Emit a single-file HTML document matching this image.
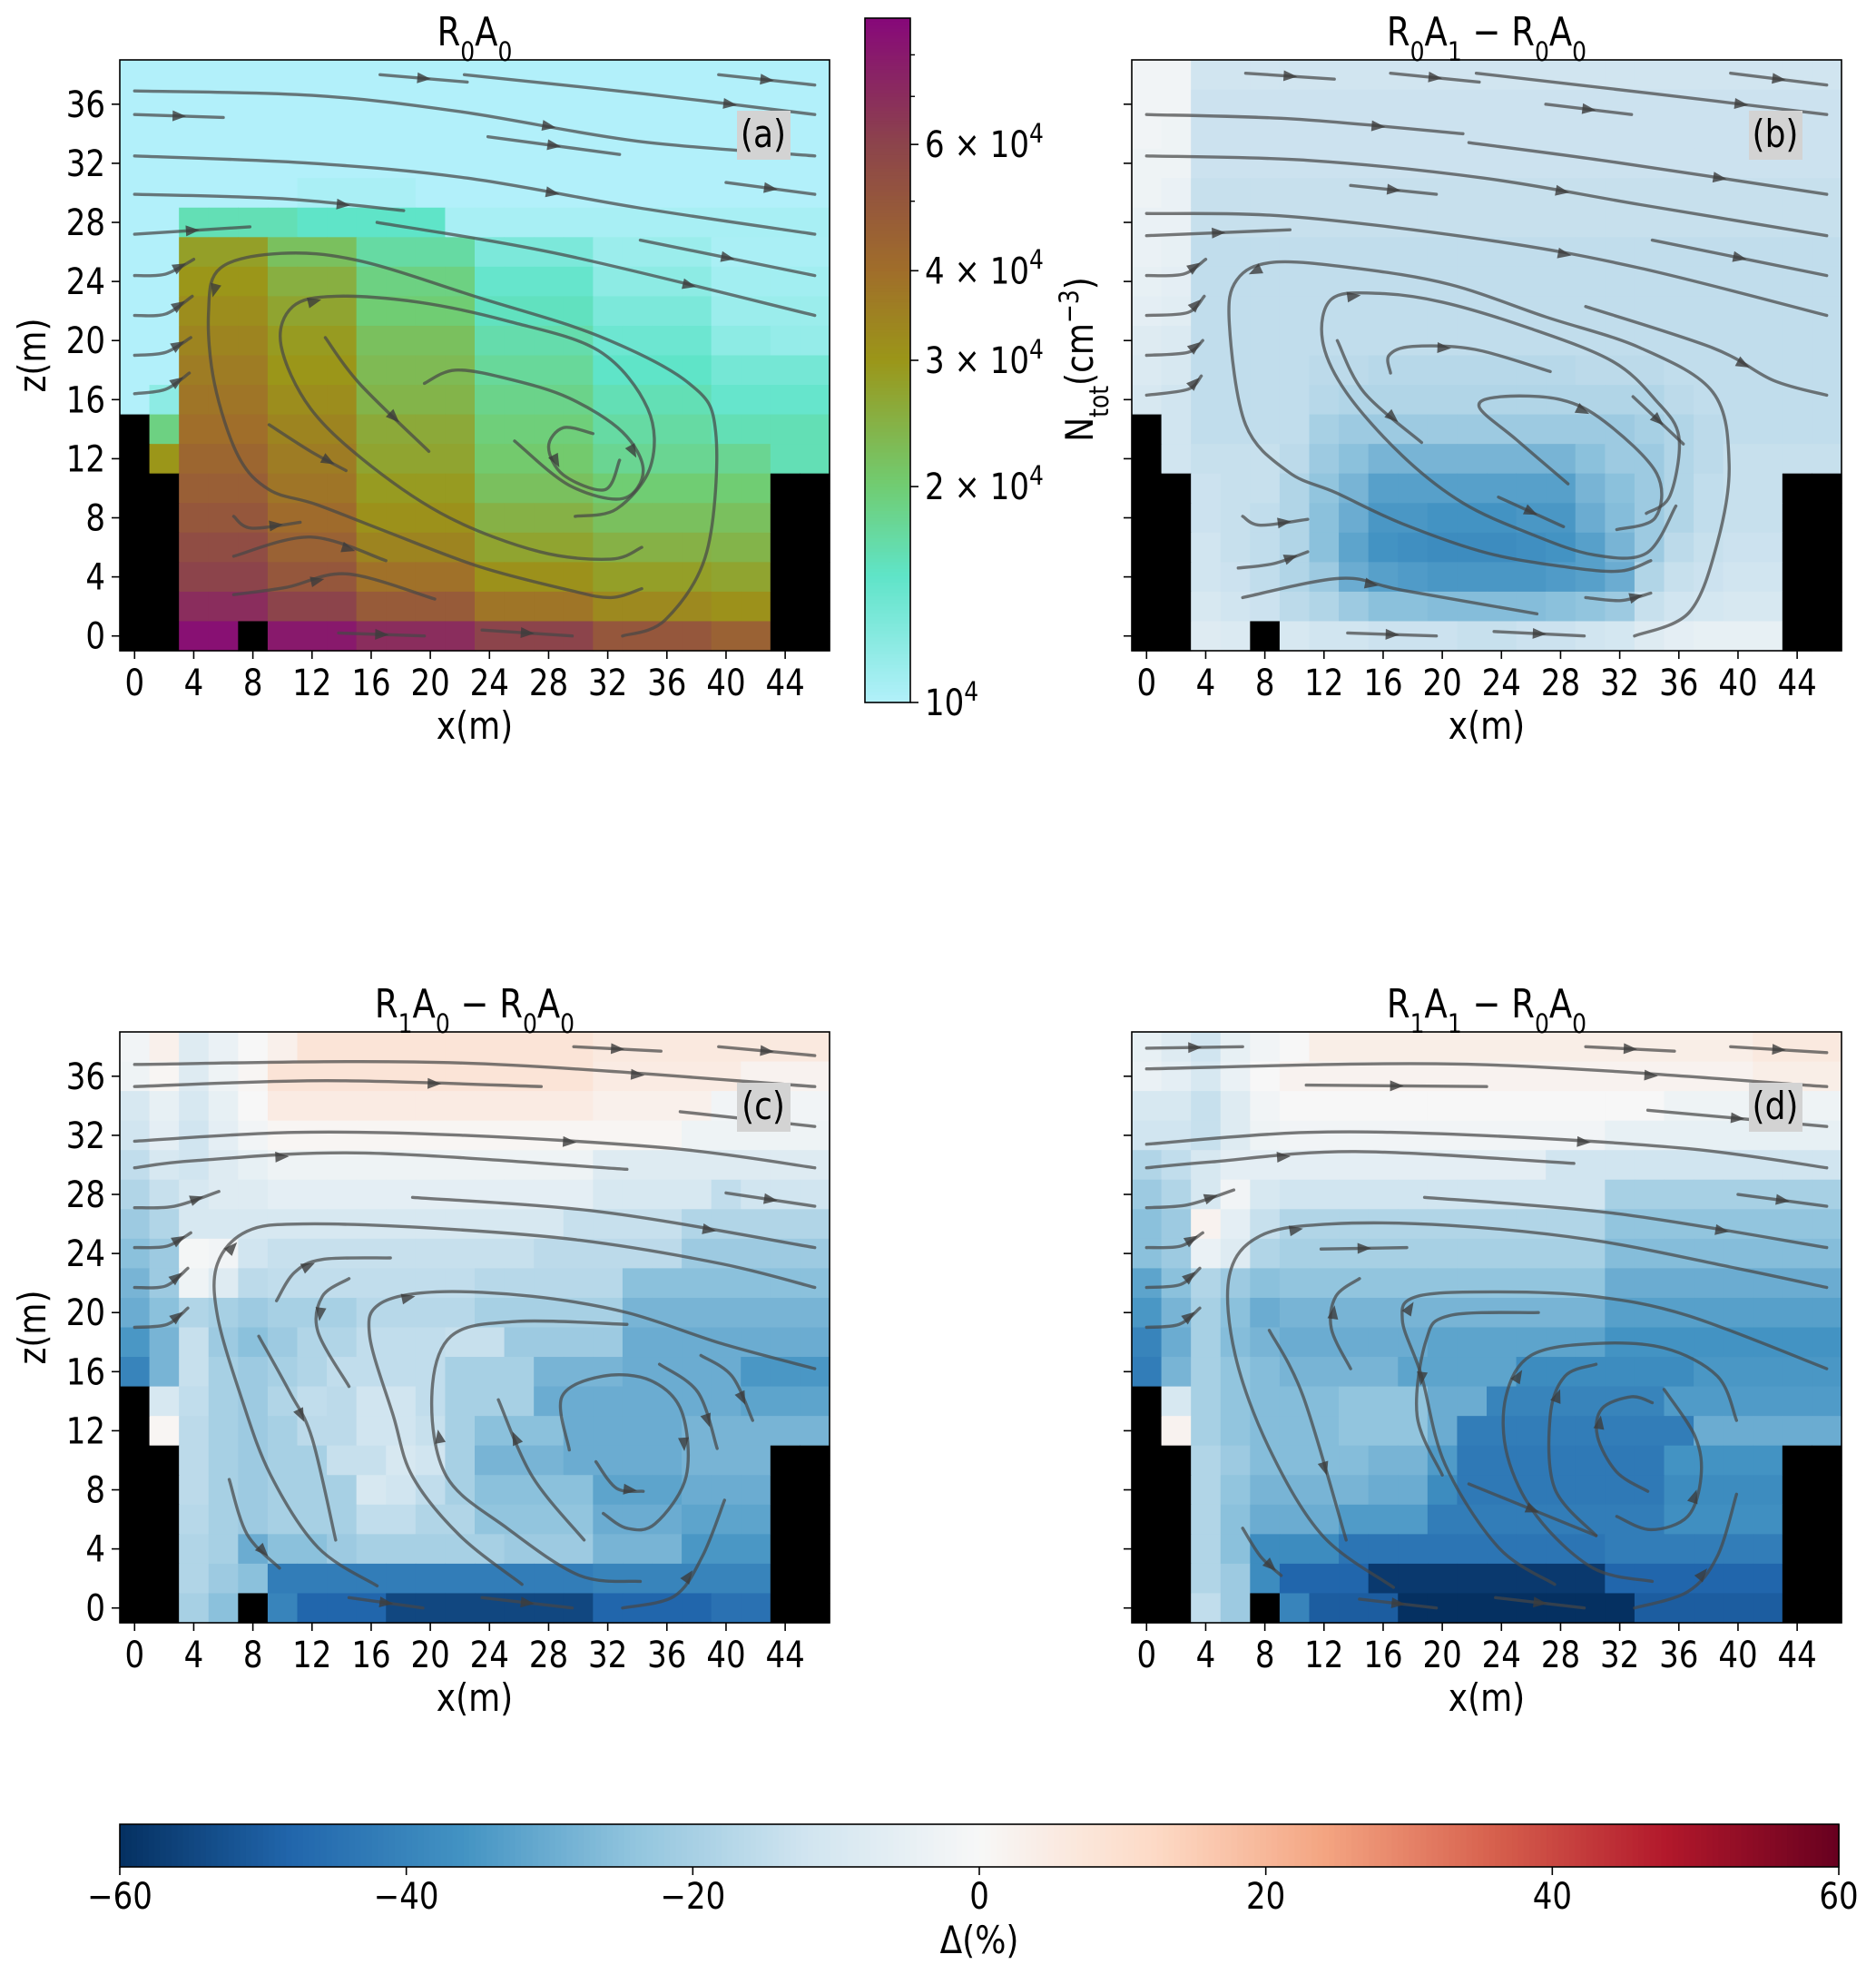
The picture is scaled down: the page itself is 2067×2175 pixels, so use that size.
<!DOCTYPE html>
<html><head><meta charset="utf-8">
<style>
html,body{margin:0;padding:0;background:#fff;}
svg{display:block;font-family:"DejaVu Sans","Liberation Sans",sans-serif;}
</style></head>
<body>
<svg id="fig" xmlns="http://www.w3.org/2000/svg" width="2067" height="2175" viewBox="0 0 2067 2175"></svg>
<script>
// ---------------- DATA ----------------
// grids: rows from z=38 (top) down to z=0; 24 columns x=0,2,...,46. M = solid obstacle
const gridA = [ // N_tot in units of 1e4 cm^-3
"1*24","1*24","1*24","1*24",
"1 1 1 1 1 1 1.04 1.04 1.04 1.04 1*14",
"1 1 1.6 1.6 1.6 1.6 1.5 1.5 1.5 1.5 1.5 1.05*13",
"1 1 2.8*3 2.2*3 1.7*4 1.3*4 1.12*4 1.04*4",
"1 1 3.0*3 2.5*3 1.9*4 1.45*4 1.2*4 1.08*4",
"1 1 3.2*3 2.7*3 2.0*4 1.55*4 1.3*4 1.12*4",
"1 1 3.4*3 2.9*3 2.2*4 1.65*4 1.4*4 1.2 1.2 1.15 1.15",
"1 1 3.6*3 3.0*3 2.3*4 1.75*4 1.5*4 1.35*4",
"1 1.2 3.8*3 3.2*3 2.4*4 1.85*4 1.6*4 1.45*4",
"M 1.9 4.0*3 3.4*3 2.6*4 1.95*4 1.7*4 1.6*4",
"M 3.0 4.3*3 3.6*3 2.7*4 2.05*4 1.8*4 1.8 1.8 1.6 1.6",
"M M 4.6*3 3.8*3 2.9*4 2.2*4 2.0*4 2.0 2.0 M M",
"M M 5.0*3 4.1*3 3.1*4 2.45*4 2.2*4 2.2 2.2 M M",
"M M 5.5*3 4.5*3 3.4*4 2.7*4 2.45*4 2.4 2.4 M M",
"M M 6.0*3 5.0*3 3.9*4 3.1*4 2.8*4 2.7 2.7 M M",
"M M 7.0*3 6.0*3 4.8*4 3.8*4 3.3*4 3.1 3.1 M M",
"M M 8.5 8.5 M 8.0*3 7.0*4 6.0*4 5.0*4 4.5 4.5 M M"];
const gridB = [ // Delta %
"-2 -2 -12*22","-2 -2 -13*22","-2 -3 -13*22","-3 -3 -13*22","-3 -4 -14*22",
"-4 -4 -14*22","-4 -5 -15*22","-5 -6 -15*22","-6 -7 -15*22","-8 -9 -15*22",
"-9 -10 -15*4 -16 -16 -17*7 -16*3 -15*6",
"-10 -12 -15*4 -17 -18*11 -16 -15*5",
"M -12 -15*4 -20 -22*10 -20 -18 -16 -15*4",
"M -12 -14 -14 -14 -16 -22 -25 -28*7 -25 -22 -22 -18 -16 -14*4",
"M M -13 -14 -14 -18 -24 -28 -33*7 -28 -25 -22 -18 -15 -14 -14 M M",
"M M -13 -14 -15 -18 -25 -30 -35 -35 -36 -36 -36 -35 -35 -30 -26 -22 -18 -15 -14 -14 M M",
"M M -12 -14 -15 -18 -25 -32 -36 -37 -38 -38 -38 -37 -36 -33 -28 -22 -16 -14 -13 -13 M M",
"M M -12 -13 -15 -18 -22 -30 -33 -34 -35 -35 -35 -35 -34 -33 -30 -18 -14 -13 -12 -12 M M",
"M M -10 -12 -13 -16 -18 -22 -25 -25 -26 -26 -26 -26 -25 -24 -22 -14 -12 -11 -10 -10 M M",
"M M -8 -9 M -10 -12 -12 -13 -13 -13 -14 -14 -13 -13 -12 -11 -8 -6 -5 -5 -5 M M"];
const gridC = [
"-2 3 -8 -4 0 3 8*10 6*8",
"-3 1 -8 -3 1 8*11 5*5 2*3",
"-10 -5 -10 -5 0 5*11 3*4 -2*4",
"-12 -6 -12 -6 -2 1*14 -3*5",
"-15 -10 -12 -8 -5 -3*11 -8*8",
"-18 -14 -10 -8 -8 -6*11 -10*4 -15 -12 -12 -12",
"-22 -18 -10 -10 -10 -10*10 -14*4 -18*5",
"-25 -22 -1 -2 -12 -14*9 -16*5 -22*5",
"-28 -22 -3 -8 -16 -15*7 -17*5 -25*7",
"-30 -25 -18 -20 -22 -20*3 -17*4 -20*5 -28*7",
"-35 -28 -14 -22 -25 -22 -18 -18 -15*3 -14 -14 -22*4 -30*7",
"-40 -28 -14 -20 -22 -20 -18 -15 -15*3 -20*3 -28*3 -30*4 -35*3",
"M -10 -15 -20 -22 -18 -15 -16 -12 -12 -15 -20*3 -30*7 -32*3",
"M 1 -16 -20 -22 -20 -16 -16 -12 -12 -14 -20 -25*3 -30*4 -28*5",
"M M -16 -20 -22 -20 -20 -14 -14 -10 -12 -20 -28*3 -30*4 -28*3 M M",
"M M -16 -20 -22 -20*3 -10 -12 -15 -20 -25*4 -32*3 -30*3 M M",
"M M -17 -20 -22 -20*3 -15 -15 -18 -18 -24*4 -30*3 -32*3 M M",
"M M -18 -20 -30 -25 -25 -22 -20*5 -22*3 -28*3 -35*3 M M",
"M M -18 -22 -25 -42*11 -40*6 M M",
"M M -20 -25 M -40 -48*3 -55*7 -48*4 -45 -45 M M"];
const gridD = [
"-5 -8 -12 -5 -2 0 4*15 6*3",
"-4 -6 -10 -4 0 2*16 4*3",
"-10 -10 -14 -8 -2 0*13 -3*6",
"-12 -12 -14 -8 -3 -2*11 -5*8",
"-18 -15 -10 -6 -6 -6*9 -12*10",
"-22 -18 -10 -2 -10 -12*11 -20*8",
"-25 -22 2 -6 -14 -18*11 -24*8",
"-25 -22 -4 -8 -18 -20*11 -26*8",
"-32 -25 -18 -22 -25 -24*11 -30*8",
"-35 -28 -20 -25 -30 -28*11 -33*8",
"-40 -30 -20 -26 -28 -30*5 -32*6 -36*8",
"-42 -28 -20 -24 -26 -28*4 -32*4 -38*6 -35*5",
"M -10 -20 -24 -26 -26 -26 -24*3 -30 -30 -40*6 -34*6",
"M 2 -20 -24 -26 -26 -26 -24*3 -30 -42*8 -30*5",
"M M -18 -22 -26 -26*3 -28 -28 -34 -43*7 -36*4 M M",
"M M -18 -24 -28 -28*3 -30 -30 -38 -43*7 -38*4 M M",
"M M -18 -25 -30 -30 -30 -34*3 -42*8 -37*4 M M",
"M M -18 -25 -38 -38 -38 -44*9 -42*6 M M",
"M M -18 -22 -38 -48*3 -58*8 -48*6 M M",
"M M -15 -22 M -40 -50*3 -60*8 -50*5 M M"];

// streamlines, in data coordinates [x(m), z(m)]
const streamsA = [
[[0,36.9],[12,36.6],[22,35.5],[34,33.5],[46,32.5]],
[[0,32.5],[12,32],[22.5,31],[34,29],[46,27.2]],
[[0,29.9],[10,29.6],[18.2,28.8]],
[[16.4,28],[29,25.8],[46,21.7]],
[[22.3,38],[34.5,36.7],[46,35.3]],
[[16.6,38],[22.5,37.5]],[[39.5,38],[46,37.3]],[[0,35.3],[6,35.1]],
[[23.9,33.8],[32.8,32.6]],[[40,30.7],[46,29.9]],[[34.2,26.8],[46,24.4]],
[[0,27.2],[7.8,27.7]],
[[33,0],[35.9,1.1],[38.7,5.7],[39.3,13.8],[37.5,17.1],[31.4,20.3],[23.3,22.9],[15.2,25.4],[9.9,25.9],[5.8,24.9],[5,21.9],[5.4,17.1],[7,12.2],[9.1,9.9],[12.3,8.9],[17.2,7],[23.3,4.7],[29.4,3.1],[32.2,2.6],[34.3,3.2]],
[[34.3,6],[32.2,5.2],[27.4,5.7],[21.3,8],[16,11.5],[11.9,15.4],[9.9,19.7],[10.7,22.3],[13.6,23],[19.2,22.6],[25.3,21.3],[31.4,19.3],[34.7,15.4],[34.9,11.5],[32.6,8.6],[29.8,8.1]],
[[19.6,17.1],[21.7,18],[25.3,17.4],[29.4,16.1],[33,13.8],[34.4,11.2],[33,9.3],[29.4,10.2],[25.7,13.2]],
[[12.9,20.2],[15.2,17.1],[19.9,12.5]],
[[31,13.7],[29,14.1],[28,12.8],[29,10.9],[31.8,9.9],[32.8,11.9]],
[[9.1,14.3],[11.9,12.5],[14.3,11.2]],
[[6.7,8.1],[7.9,7.3],[11.2,7.7]],
[[6.7,5.4],[11.9,6.7],[17,5.1]],
[[6.7,2.8],[10.3,3.3],[14.4,4.2],[20.3,2.5]],
[[13.8,0.2],[19.6,0]],[[23.5,0.4],[29.6,0]],
[[0,24.4],[2.1,24.5],[4,25.5]],[[0,21.7],[2.1,21.8],[3.9,23]],[[0,19],[2.1,19.2],[3.8,20.2]],[[0,16.4],[2.1,16.7],[3.7,17.8]]];
const streamsB = [
[[0,35.3],[9.9,35],[21.4,34]],
[[0,32.5],[10.9,32.2],[22.8,31],[33.4,29.2],[46,27.1]],
[[0,28.6],[9.7,28.4],[23.1,26.8],[33.4,24.9],[46,21.7]],
[[0,27.1],[9.7,27.5]],
[[22.3,38.1],[34.4,36.7],[46,35.3]],
[[6.7,38.1],[12.7,37.7]],[[16.5,38.1],[22.5,37.5]],[[39.5,38.1],[46,37.3]],
[[27,36],[32.8,35.3]],[[13.8,30.5],[19.6,29.9]],
[[21.8,33.4],[31.5,32.1],[46,29.9]],[[34.2,26.8],[46,24.4]],
[[29.7,22.3],[38.3,19.5],[42.4,17.3],[46,16.3]],
[[33,0],[36.7,1.6],[38.6,6.3],[39.4,11.6],[38.3,16.5],[33.4,19.5],[27,21.6],[20.5,23.8],[14.1,24.9],[8.6,25.3],[6.1,24.1],[5.6,21.1],[6.7,14.3],[9.6,11.1],[12.8,9.7],[17.3,7.6],[23.1,5.6],[28.9,4.6],[32.1,4.4],[34.1,5.1]],
[[35.8,8.8],[33.8,5.6],[30.2,5.5],[26,6.9],[21.4,9],[17.3,12.2],[13.5,16.5],[11.9,20],[12.5,22.8],[15.5,23.2],[20,22.6],[26,20.8],[31.5,18.6],[34.4,16],[36,13.5],[35.4,9.5],[33.8,8.3]],
[[12.9,20],[14.7,16.5],[18.6,13.1]],
[[16.5,17.8],[16.4,19],[18,19.6],[22.2,19.4],[27.3,17.9]],
[[28.5,10.3],[25,13.3],[22.5,15.5],[24,16.2],[28,16],[31,14.5],[34.5,11],[34.4,8],[31.8,7.2]],
[[23.8,9.4],[28.2,7.4]],[[32.9,16.2],[36.3,13]],
[[6.5,8.1],[7.7,7.5],[10.9,7.9]],[[6.2,4.6],[8.6,4.9],[10.9,5.7]],
[[6.5,2.6],[13.1,3.9],[17.3,3.1],[26.4,1.5]],[[29.7,2.6],[32.1,2.4],[34.1,2.9]],
[[13.6,0.2],[19.6,0]],[[23.5,0.3],[29.6,0]],
[[0,24.4],[2.5,24.5],[4,25.5]],[[0,21.7],[2.8,21.9],[3.9,23]],[[0,19],[2.8,19.2],[3.8,20]],[[0,16.3],[2.8,16.7],[3.7,17.6]]];
const streamsC = [
[[0,36.8],[22,36.9],[46,35.3]],
[[0,35.3],[13,35.7],[27.5,35.3]],
[[29.7,38],[35.6,37.7]],[[39.5,38],[46,37.4]],
[[0,31.6],[10.8,32.2],[22.3,32],[36.5,31.1],[46,29.8]],
[[0,29.8],[4.3,30.3],[15.6,30.8],[33.3,29.7]],
[[36.9,33.6],[46,32.6]],
[[18.8,27.8],[31.7,26.8],[46,24.4]],[[40,28.1],[46,27.2]],
[[0,27.1],[2.7,27.2],[5.7,28.2]],
[[16.4,1.5],[12.4,4.1],[9.2,9],[7.2,14.3],[5.6,19.8],[5.6,23.3],[7.6,25.5],[11.4,26],[20.4,25.7],[30.1,24.9],[39.7,23.3],[46,21.7]],
[[9.6,20.8],[10.8,22.7],[12.7,23.6],[17.3,23.7]],
[[8.4,18.4],[10.5,14.6],[12,11.5],[13.6,4.6]],
[[6.4,8.7],[7.6,5],[9.8,2.7]],
[[14.5,22.3],[12.7,21.1],[12.4,18.7],[14.5,15]],
[[26.2,1.6],[22,4.9],[18.8,8.9],[17.5,13],[15.9,18.4],[16.6,20.6],[20.4,21.4],[26.9,21.1],[33.3,20],[39.7,17.9],[46,16.2]],
[[30.4,4.6],[26.9,8.9],[24.6,14.1]],
[[34.2,1.8],[30.1,2.2],[25.2,5.4],[21.1,8.9],[20.1,14.3],[21.4,18.4],[25.9,19.4],[33.3,19.2]],
[[29.4,10.7],[28.9,14.3],[31.7,15.7],[34.9,15.4],[37,13.3],[37.3,8.9],[35.2,5.7],[33.3,5.4],[31.7,6.4]],
[[31.2,9.9],[32.6,8.1],[34.4,7.9]],
[[35.5,16.5],[38.1,14.6],[39.4,10.8]],[[38.3,17.1],[40.4,15.7],[41.8,12.7]],
[[33,0],[36.5,0.8],[38.4,3.5],[39.9,7.3]],
[[14.5,0.7],[19.5,0]],[[23.5,0.7],[29.6,0]],
[[0,24.4],[2.2,24.5],[3.8,25.4]],[[0,21.7],[2.1,21.8],[3.6,23]],[[0,19],[2.2,19.2],[3.6,20.3]]];
const streamsD = [
[[0,37.9],[6.5,38]],
[[0,36.5],[22.2,36.8],[46,35.3]],
[[10.8,35.4],[23,35.3]],
[[29.7,38],[35.7,37.7]],[[39.5,38],[46,37.6]],
[[33.9,33.7],[46,32.6]],
[[0,31.4],[10.9,32.2],[22.5,32],[36.6,31.1],[46,29.8]],
[[0,29.8],[4.4,30.2],[14.1,30.9],[28.9,30.1]],
[[18.8,27.8],[31.8,26.7],[46,24.4]],[[40,28],[46,27.2]],
[[0,27.1],[2.8,27.3],[5.9,28.3]],
[[11.8,24.3],[17.6,24.4]],
[[16.7,1.4],[11.9,4.9],[8.3,10.8],[6,17.1],[5.6,22.5],[7.7,25.2],[12.5,26],[20.5,25.9],[30.2,24.9],[39.9,23],[46,21.7]],
[[8.3,18.8],[10.6,14.3],[13.5,4.6]],
[[13.8,16.2],[12.5,18.9],[12.8,21.1],[14.4,22.3]],
[[6.5,5.4],[7.7,3.5],[9.1,2.2]],
[[27.6,1.6],[23.8,4.1],[20.2,9.7],[18.6,15.7],[17.3,19.5],[18.3,21.1],[23.8,21.4],[30.2,21.1],[36.6,19.8],[46,16.2]],
[[26.5,20],[20.5,19.8],[18.9,18.1],[18.3,13],[20,9]],
[[34.2,1.8],[30.2,2.7],[26.4,6.2],[24.4,10.3],[24.3,14.3],[26,17.1],[30.2,17.9],[35,17.6],[38.6,15.7],[39.9,12.7]],
[[21.8,8.4],[30.4,4.9]],
[[30.4,4.9],[27.6,8.1],[27.3,13],[28.3,15.7],[30.4,16.5]],
[[33.9,7.9],[31.8,9.2],[30.5,11.6],[30.8,13.5],[32.8,14.3],[34.2,13.9]],
[[31.8,6.2],[34.1,5.3],[36.6,6.2],[37.5,8.9],[37.1,11.6],[35,14.8]],
[[33,0],[36.6,1.1],[38.6,3.5],[39.9,7.7]],
[[14.4,0.6],[19.6,0]],[[23.6,0.7],[29.6,0]],
[[0,24.4],[2.3,24.5],[3.8,25.4]],[[0,21.7],[2.3,21.9],[3.6,23]],[[0,19],[2.2,19.2],[3.6,20.3]]];

const xTicks = [0,4,8,12,16,20,24,28,32,36,40,44];
const zTicks = [0,4,8,12,16,20,24,28,32,36];
const cbarALabeled = [2,3,4,6];       // x 1e4
const cbarAMinor = [5,7,8];
const deltaTicks = [-60,-40,-20,0,20,40,60];

// ---------------- HELPERS ----------------
const NS='http://www.w3.org/2000/svg';
const svg=document.getElementById('fig');
function mk(tag,attrs,parent){const e=document.createElementNS(NS,tag);for(const k in attrs)e.setAttribute(k,attrs[k]);(parent||svg).appendChild(e);return e;}
function parseRow(s){return s.trim().split(/\s+/).flatMap(t=>{if(t.includes('*')){const p=t.split('*');return Array(+p[1]).fill(p[0]==='M'?null:+p[0]);}return [t==='M'?null:+t];});}
const FS=34, SY=1.17;
function label(parent,x,y,html,anchor,size,rot){
  const t=mk('text',{transform:`translate(${x},${y})${rot?` rotate(${rot})`:''} scale(1,${SY})`,'text-anchor':anchor||'middle','font-size':size||FS,fill:'#000'},parent);
  t.innerHTML=html;return t;}
function lerpStops(stops,t){t=Math.max(0,Math.min(1,t));for(let i=1;i<stops.length;i++){if(t<=stops[i][0]){const a=stops[i-1],b=stops[i];const f=(t-a[0])/(b[0]-a[0]||1);return `rgb(${[1,2,3].map(k=>Math.round(a[k]+(b[k]-a[k])*f)).join(',')})`;}}const l=stops[stops.length-1];return `rgb(${l[1]},${l[2]},${l[3]})`;}
const stopsA=[[0,178,240,250],[0.185,95,228,200],[0.315,112,205,115],[0.5,155,150,25],[0.63,160,110,42],[0.815,140,68,75],[1,135,8,122]];
const stopsRdBu=[[0,5,48,97],[0.1,33,102,172],[0.2,67,147,195],[0.3,146,197,222],[0.4,209,229,240],[0.5,247,247,247],[0.6,253,219,199],[0.7,244,165,130],[0.8,214,96,77],[0.9,178,24,43],[1,103,0,31]];
const colA=v=>lerpStops(stopsA,Math.log10(v)/Math.log10(9));
const colD=v=>lerpStops(stopsRdBu,(v+60)/120);
function smoothPath(pts){if(pts.length<3)return 'M'+pts.map(p=>p.join(',')).join('L');
  let d=`M${pts[0][0]},${pts[0][1]}`;
  for(let i=0;i<pts.length-1;i++){const p0=pts[i-1]||pts[i],p1=pts[i],p2=pts[i+1],p3=pts[i+2]||p2;
    d+=`C${p1[0]+(p2[0]-p0[0])/6},${p1[1]+(p2[1]-p0[1])/6} ${p2[0]-(p3[0]-p1[0])/6},${p2[1]-(p3[1]-p1[1])/6} ${p2[0]},${p2[1]}`;}
  return d;}

const W=782,H=651;
function panel(id,L,T,grid,colFn,streams,yLabels,titleHtml,letter){
  const g=mk('g',{});
  
  
  const sx=x=>L+(x+1)*W/48, sz=z=>T+(39-z)*H/40;
  const cells=mk('g',{},g);
  
  
  grid.forEach((row,j)=>{const vals=parseRow(row);const z=38-2*j;
    vals.forEach((v,i)=>{const x=2*i;
      const r=mk('rect',{x:sx(x-1),y:sz(z+1),width:sx(x+1)-sx(x-1)+0.6,height:sz(z-1)-sz(z+1)+0.6,fill:v===null?'#000':colFn(v)},cells);
      
      
    });});
  const sg=mk('g',{fill:'none',stroke:'rgba(70,70,70,0.72)','stroke-width':3.4,'stroke-linecap':'round'},g);
  
  
  streams.forEach(s=>{const pts=s.map(p=>[sx(p[0]),sz(p[1])]);
    const p=mk('path',{d:smoothPath(pts)},sg);
    
    
    const m=Math.floor((pts.length-1)/2);const a=pts[m],b=pts[m+1];
    const mx=(a[0]+b[0])/2,my=(a[1]+b[1])/2,ang=Math.atan2(b[1]-a[1],b[0]-a[0])*180/Math.PI;
    const ah=mk('path',{d:'M8,0 L-7,-6 L-7,6 Z',fill:'rgba(60,60,60,0.8)',stroke:'none',transform:`translate(${mx},${my}) rotate(${ang})`},sg);
    
    
  });
  const fr=mk('rect',{x:L,y:T,width:W,height:H,fill:'none',stroke:'#000','stroke-width':1.6},g);
  
  
  xTicks.forEach(v=>{const x=sx(v);
    const tk=mk('line',{x1:x,x2:x,y1:T+H,y2:T+H+9,stroke:'#000','stroke-width':1.6},g);
    
    
    const tl=label(g,x,T+H+49,String(v),'middle');
    
    
  });
  zTicks.forEach(v=>{const y=sz(v);
    const tk=mk('line',{x1:L-9,x2:L,y1:y,y2:y,stroke:'#000','stroke-width':1.6},g);
    
    
    if(yLabels){const tl=label(g,L-16,y+14,String(v),'end');
      
      }
  });
  const xl=label(g,L+W/2,T+H+97,'x(m)','middle',36);
  
  
  if(yLabels){const yl=label(g,50,T+H/2,'z(m)','middle',36,-90);
    
    }
  const tt=label(g,L+W/2,T-16,titleHtml,'middle',37);
  
  
  const lb=mk('rect',{x:L+680,y:T+56,width:59,height:54,fill:'#d3d3d3'},g);
  
  
  const lt=label(g,L+709,T+96,letter,'middle',36);
  
  
}
const sub=s=>`<tspan baseline-shift="sub" font-size="25">${s}</tspan>`;
const R0A0=`R${sub(0)}A${sub(0)}`;
panel('a',132,66,gridA,colA,streamsA,true,R0A0,'(a)');
panel('b',1247,66,gridB,colD,streamsB,false,`R${sub(0)}A${sub(1)} − ${R0A0}`,'(b)');
panel('c',132,1137,gridC,colD,streamsC,true,`R${sub(1)}A${sub(0)} − ${R0A0}`,'(c)');
panel('d',1247,1137,gridD,colD,streamsD,false,`R${sub(1)}A${sub(1)} − ${R0A0}`,'(d)');

// ---- colorbar A (log) ----
const cbA=mk('g',{});


const cL=953,cR=1003,cT=20,cB=774,dec=(cB-cT)/Math.log10(9);
const cy=v=>cB-Math.log10(v)*dec;
for(let i=0;i<200;i++){const y0=cT+(cB-cT)*i/200;const t=1-(i+0.5)/200;
  const r=mk('rect',{x:cL,y:y0,width:cR-cL,height:(cB-cT)/200+0.8,fill:lerpStops(stopsA,t)},cbA);
  
  }
mk('rect',{x:cL,y:cT,width:cR-cL,height:cB-cT,fill:'none',stroke:'#000','stroke-width':1.6},cbA);
const sup=s=>`<tspan baseline-shift="super" font-size="25">${s}</tspan>`;
cbarALabeled.forEach(v=>{const y=cy(v);
  const tk=mk('line',{x1:cR,x2:cR+9,y1:y,y2:y,stroke:'#000','stroke-width':1.6},cbA);
  
  
  const tl=label(cbA,cR+16,y+14,`${v} × 10${sup(4)}`,'start');
  
  });
cbarAMinor.forEach(v=>{const y=cy(v);
  const tk=mk('line',{x1:cR,x2:cR+5,y1:y,y2:y,stroke:'#000','stroke-width':1.4},cbA);
  
  });
mk('line',{x1:cR,x2:cR+9,y1:cB,y2:cB,stroke:'#000','stroke-width':1.6},cbA);
const l1=label(cbA,cR+16,cB+14,`10${sup(4)}`,'start');


const nl=label(cbA,1204,396,`N<tspan baseline-shift="sub" font-size="25">tot</tspan>(cm<tspan baseline-shift="super" font-size="25">−3</tspan>)`,'middle',36,-90);



// ---- colorbar Delta ----
const cbD=mk('g',{});


const dL=132,dR=2026,dT=2010,dB=2057;
const dx=v=>dL+(v+60)/120*(dR-dL);
for(let i=0;i<300;i++){const x0=dL+(dR-dL)*i/300;
  const r=mk('rect',{x:x0,y:dT,width:(dR-dL)/300+0.8,height:dB-dT,fill:lerpStops(stopsRdBu,(i+0.5)/300)},cbD);
  
  }
mk('rect',{x:dL,y:dT,width:dR-dL,height:dB-dT,fill:'none',stroke:'#000','stroke-width':1.6},cbD);
deltaTicks.forEach(v=>{const x=dx(v);
  const tk=mk('line',{x1:x,x2:x,y1:dB,y2:dB+9,stroke:'#000','stroke-width':1.6},cbD);
  
  
  const tl=label(cbD,x,dB+46,(v<0?'−':'')+Math.abs(v),'middle');
  
  });
const dl=label(cbD,(dL+dR)/2,2152,'Δ(%)','middle',36);


</script>
</body></html>
